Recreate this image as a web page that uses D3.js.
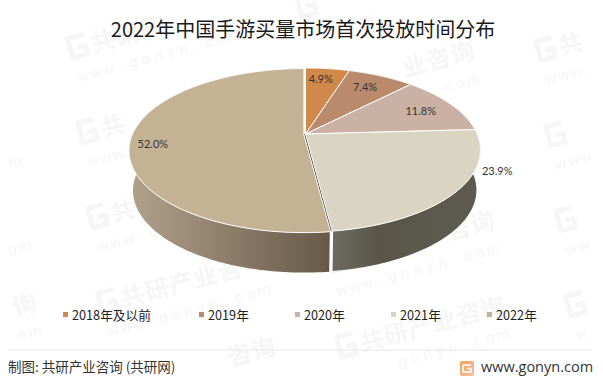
<!DOCTYPE html>
<html><head><meta charset="utf-8">
<script src="https://cdn.jsdelivr.net/npm/d3@7/dist/d3.min.js"></script>
<style>html,body{margin:0;padding:0;background:#fff}svg{display:block}</style>
</head><body><svg id="c" width="603" height="376"></svg>
<script>
const categories=["2018年及以前","2019年","2020年","2021年","2022年"];
const shares=[4.9,7.4,11.8,23.9,52.0];
const faceColors=["#D0894B","#B98A6C","#CBB0A4","#D9D5C2","#C4B295"];
const labelText=["4.9%","7.4%","11.8%","23.9%","52.0%"];
const titleText="2022年中国手游买量市场首次投放时间分布";
const sourceText="制图: 共研产业咨询 (共研网)";
const siteText="www.gonyn.com";
const markName="共研产业咨询";

const W=603,H=376,svg=d3.select("#c");
const cjk='"Noto Sans CJK SC","Noto Sans",sans-serif';
svg.append("rect").attr("width",W).attr("height",H).attr("fill","#fff");

// watermark lattice: each glyph is placed alone, and glyphs that would be cut by the page edge or hidden by the pie are left out
const wm=svg.append("g").attr("fill","#f6f6f6");
const rot=-15*Math.PI/180;
function glyph(ox,oy,x,y,ch,size,weight,family){
  const px=ox+x*Math.cos(rot)-y*Math.sin(rot),py=oy+x*Math.sin(rot)+y*Math.cos(rot);
  const m=size*0.85;
  if(px<m||px>W-m||py<size*1.35||py>H-size*0.45)return;
  if(((px-305)/182)**2+((py-170)/108)**2<1)return;
  wm.append("text").attr("transform",`translate(${px},${py}) rotate(-15)`).attr("text-anchor","middle")
    .attr("font-family",family).attr("font-weight",weight).attr("font-size",size).text(ch);
}
d3.range(-1,3).forEach(i=>d3.range(-1,5).forEach(j=>{
  const ox=67+239*i+10*j,oy=47+44*i+85*j;
  wm.append("path").attr("transform",`translate(${ox},${oy}) rotate(-15)`)
    .attr("d","M19 -8H3V12H18V3H10").attr("fill","none").attr("stroke","#f6f6f6").attr("stroke-width",5).attr("stroke-linejoin","round");
  Array.from(markName).forEach((c,k)=>glyph(ox,oy,36+k*25,12,c,24,700,cjk));
  Array.from(siteText).forEach((c,k)=>glyph(ox,oy,8+k*13,37,c,15,400,"Roboto,sans-serif"));
}));

// title
svg.append("text").attr("x",303).attr("y",37).attr("text-anchor","middle").attr("font-family",cjk)
  .attr("font-size",20).attr("fill","#1a1a1a").text(titleText);

// perspective disc projection
const cx=305.5,cy=134,persp=-0.195,rx=171.6,ry=78.9,depth=40,baseScale=0.977;
function project(theta,rho){
  const x=rho*Math.sin(theta),y=-rho*Math.cos(theta),w=1+persp*y;
  return [rx*x/w,ry*y/w];
}
const topPt=(t,r=1)=>{const p=project(t,r);return [cx+p[0],cy+p[1]];};
const basePt=(t,r=1)=>{const p=project(t,r);return [cx+p[0]*baseScale,cy+p[1]+depth];};
const pie=d3.pie().sort(null).value(d=>d)(shares);
const line=d3.line();
const samples=(a,b)=>{const n=Math.max(2,Math.ceil((b-a)/0.02));return d3.range(n+1).map(k=>a+(b-a)*k/n);};
const explode=i=>i===4?[-1.6,0.6]:[0,0];

const defs=svg.append("defs");
const wallStops=[
 [["0","#6e6b61"],["0.3","#595649"],["1","#5d5a50"]],
 [["0","#b1a18b"],["0.5","#8c7d69"],["1","#675a49"]]
];
[[333,480,"w21",0],[133,330,"w22",1]].forEach(([a,b,id,s])=>{
  const g=defs.append("linearGradient").attr("id",id).attr("gradientUnits","userSpaceOnUse")
   .attr("x1",a).attr("x2",b).attr("y1",0).attr("y2",0);
  wallStops[s].forEach(d=>g.append("stop").attr("offset",d[0]).attr("stop-color",d[1]));
});
const shade=d=>d3.color(d).darker(1.6).formatHex();

const plot=svg.append("g");
// outer walls
[0,1,2,3,4].forEach(i=>{
  const d=pie[i],ts=samples(d.startAngle,d.endAngle),[dx,dy]=explode(i);
  const pts=ts.map(t=>topPt(t)).concat(ts.slice().reverse().map(t=>basePt(t)));
  plot.append("path").attr("transform",`translate(${dx},${dy})`).attr("d",line(pts)+"Z")
   .attr("fill",i===3?"url(#w21)":i===4?"url(#w22)":shade(faceColors[i]));
});
// exposed cut face in the gap of the exploded slice
{
  const e=pie[3].endAngle,[dx,dy]=explode(4),a=topPt(0,0),r=topPt(e);
  plot.append("path").attr("d",line([a,r,[r[0]+dx,r[1]+dy],[a[0]+dx,a[1]+dy]])+"Z")
   .attr("fill","#3f3d38").attr("stroke","#3f3d38").attr("stroke-width",1.2);
  const b=basePt(e);
  plot.append("path").attr("d",line([r,b])).attr("stroke","#fff").attr("stroke-width",2).attr("fill","none");
  plot.append("path").attr("d",line([[r[0]+dx,r[1]+dy],[b[0]+dx,b[1]+dy]])).attr("stroke","#fff").attr("stroke-width",1.5).attr("fill","none");
}
// top faces
pie.forEach((d,i)=>{
  const ts=samples(d.startAngle,d.endAngle),[dx,dy]=explode(i);
  plot.append("path").attr("transform",`translate(${dx},${dy})`)
   .attr("d",line([topPt(0,0)].concat(ts.map(t=>topPt(t))))+"Z")
   .attr("fill",faceColors[i]).attr("stroke","#fff").attr("stroke-width",1).attr("stroke-linejoin","round");
});
// value labels
const labelPlace=[[0.8,-3,-1],[0.76,0,-1],[0.77,2,1],[1,41,-21],[0.87,-2,6]];
pie.forEach((d,i)=>{
  const [rho,dx,dy]=labelPlace[i],p=topPt((d.startAngle+d.endAngle)/2,rho);
  plot.append("text").attr("x",p[0]+dx).attr("y",p[1]+dy).attr("dy","0.35em").attr("text-anchor","middle")
   .attr("font-family","Lato,sans-serif").attr("font-size",11).attr("fill","#333").text(labelText[i]);
});

// legend
const legendX=d3.scaleOrdinal().domain(categories).range([63,199,295,391,487]);
const legend=svg.append("g").selectAll("g").data(categories).join("g")
  .attr("transform",d=>`translate(${legendX(d)},312)`);
legend.append("rect").attr("y",0).attr("width",5).attr("height",5).attr("fill",(d,i)=>faceColors[i]);
legend.append("text").attr("x",9).attr("y",7.5).attr("font-family",cjk).attr("font-size",12.7).attr("fill","#222").text(d=>d);

// footer
svg.append("line").attr("x1",8).attr("x2",592).attr("y1",350).attr("y2",350).attr("stroke","#e6e6e6");
svg.append("text").attr("x",8).attr("y",371.500).attr("font-family",cjk).attr("font-size",13.5).attr("fill","#333").text(sourceText);
const logoGrad=defs.append("linearGradient").attr("id","lg").attr("x1",0).attr("x2",1).attr("y1",0).attr("y2",1);
logoGrad.append("stop").attr("offset","0").attr("stop-color","#f2a05a");
logoGrad.append("stop").attr("offset","1").attr("stop-color","#f6c2a0");
svg.append("rect").attr("x",460).attr("y",361).attr("width",14).attr("height",15).attr("rx",2).attr("fill","url(#lg)");
svg.append("path").attr("d","M463 365H471M463 365V372H471V368.500H467").attr("fill","none").attr("stroke","#fff").attr("stroke-width",1.6);
svg.append("text").attr("x",481).attr("y",372).attr("font-family",'"Open Sans",sans-serif').attr("font-size",14.500).attr("fill","#333").text(siteText);
</script></body></html>
